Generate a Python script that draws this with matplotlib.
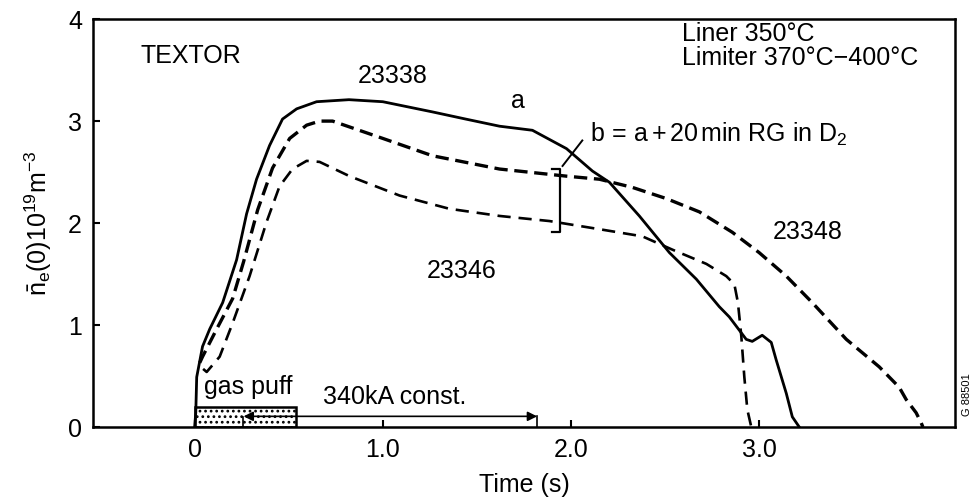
import numpy as np
import matplotlib.pyplot as plt
from matplotlib.patches import Rectangle

plt.rcParams['font.family'] = ['Liberation Sans', 'DejaVu Sans']
plt.rcParams['mathtext.fontset'] = 'custom'
plt.rcParams['mathtext.rm'] = 'Liberation Sans'
plt.rcParams['mathtext.it'] = 'Liberation Sans:italic'
plt.rcParams['hatch.linewidth'] = 1.2

# shot 23338 (a), solid
t_a = [0.0, 0.006, 0.011, 0.042, 0.080, 0.149, 0.223, 0.276, 0.329, 0.398, 0.467, 0.542,
       0.648, 0.82, 1.0, 1.264, 1.44, 1.62, 1.795, 1.976, 2.114, 2.204, 2.363, 2.523,
       2.666, 2.788, 2.841, 2.931, 2.963, 3.016, 3.064, 3.09, 3.144, 3.176, 3.213]
n_a = [0.0, 0.14, 0.49, 0.79, 0.96, 1.22, 1.64, 2.09, 2.43, 2.76, 3.02, 3.12,
       3.19, 3.21, 3.19, 3.09, 3.02, 2.95, 2.91, 2.73, 2.51, 2.40, 2.07, 1.71,
       1.45, 1.18, 1.08, 0.86, 0.84, 0.90, 0.83, 0.66, 0.33, 0.10, 0.0]

# shot 23348 (b), heavy dashed
t_b = [0.027, 0.042, 0.117, 0.202, 0.260, 0.335, 0.414, 0.505, 0.595, 0.664, 0.733,
       1.0, 1.264, 1.62, 1.976, 2.151, 2.326, 2.507, 2.682, 2.857, 3.0, 3.144, 3.282,
       3.463, 3.638, 3.744, 3.781, 3.834, 3.861, 3.87]
n_b = [0.63, 0.69, 0.96, 1.26, 1.62, 2.13, 2.54, 2.83, 2.96, 3.0, 3.0,
       2.83, 2.66, 2.53, 2.46, 2.43, 2.35, 2.24, 2.11, 1.91, 1.71, 1.48, 1.22,
       0.86, 0.59, 0.39, 0.27, 0.14, 0.04, 0.0]

# shot 23346, dashed
t_c = [0.045, 0.064, 0.133, 0.202, 0.292, 0.382, 0.451, 0.520, 0.595, 0.664, 0.823,
       1.089, 1.354, 1.62, 1.885, 2.151, 2.379, 2.538, 2.719, 2.825, 2.868, 2.887,
       2.905, 2.921, 2.937, 2.958]
n_c = [0.57, 0.54, 0.69, 1.02, 1.48, 2.01, 2.36, 2.53, 2.61, 2.60, 2.46,
       2.27, 2.14, 2.07, 2.02, 1.94, 1.87, 1.74, 1.60, 1.48, 1.40, 1.22,
       0.89, 0.49, 0.17, 0.0]

xticks = [0, 1.0, 2.0, 3.0]
xticklabels = ["0", "1.0", "2.0", "3.0"]
yticks = [0, 1, 2, 3, 4]

fig = plt.figure(figsize=(9.75, 5.03), dpi=100)
ax = fig.add_axes([0.0954, 0.151, 0.884, 0.811])

ax.plot(t_a, n_a, '-', color='black', lw=2.0, solid_joinstyle='round')
ax.plot(t_b, n_b, color='black', lw=2.4, dashes=(4, 2))
ax.plot(t_c, n_c, color='black', lw=1.9, dashes=(5, 3))

# gas puff box
ax.add_patch(Rectangle((0, 0), 0.54, 0.2, facecolor='white', edgecolor='black',
                       hatch='...', lw=1.8))
ax.plot([0.255, 0.255], [0, 0.1], color='black', lw=1.2)
ax.annotate('', xy=(0.26, 0.105), xytext=(1.82, 0.105),
            arrowprops=dict(arrowstyle='<|-|>', color='black', lw=1.2,
                            shrinkA=0, shrinkB=0, mutation_scale=14))
ax.plot([1.82, 1.82], [0, 0.11], color='black', lw=1.2)

# bracket and leader for b
ax.plot([1.90, 1.94, 1.94, 1.90], [2.53, 2.53, 1.91, 1.91], color='black', lw=1.6)
ax.plot([1.955, 2.06], [2.56, 2.81], color='black', lw=1.4)

fs = 18
ax.text(-0.29, 3.64, "TEXTOR", fontsize=fs, va='center')
ax.text(2.59, 3.85, "Liner 350°C", fontsize=fs, va='center')
ax.text(2.59, 3.62, "Limiter 370°C\u2212400°C", fontsize=fs, va='center')
ax.text(1.05, 3.44, "23338", fontsize=fs, ha='center', va='center')
ax.text(1.72, 3.2, "a", fontsize=fs, ha='center', va='center')
ax.text(2.10, 2.87, r"b$\,=\,$a$\,$+$\,$20$\,$min RG in D$_2$", fontsize=fs, va='center')
ax.text(1.42, 1.53, "23346", fontsize=fs, ha='center', va='center')
ax.text(3.26, 1.91, "23348", fontsize=fs, ha='center', va='center')
ax.text(0.05, 0.39, "gas puff", fontsize=fs, va='center')
ax.text(0.68, 0.29, "340kA const.", fontsize=fs, va='center')
fig.text(0.992, 0.215, "G 88501", fontsize=8, rotation=90, ha='center', va='center')

ax.set_xlim(-0.54, 4.04)
ax.set_ylim(0, 4)
ax.set_xticks(xticks)
ax.set_xticklabels(xticklabels)
ax.set_yticks(yticks)
ax.tick_params(direction='in', length=5, width=1.5, labelsize=fs, pad=8)
for s in ax.spines.values():
    s.set_linewidth(1.8)

ax.set_xlabel("Time (s)", fontsize=fs, labelpad=8)
ax.set_ylabel(r"$\bar{\mathrm{n}}_\mathrm{e}(0)10^{19}\mathrm{m}^{-3}$", fontsize=fs, labelpad=10)

plt.savefig("out.png", dpi=100)
